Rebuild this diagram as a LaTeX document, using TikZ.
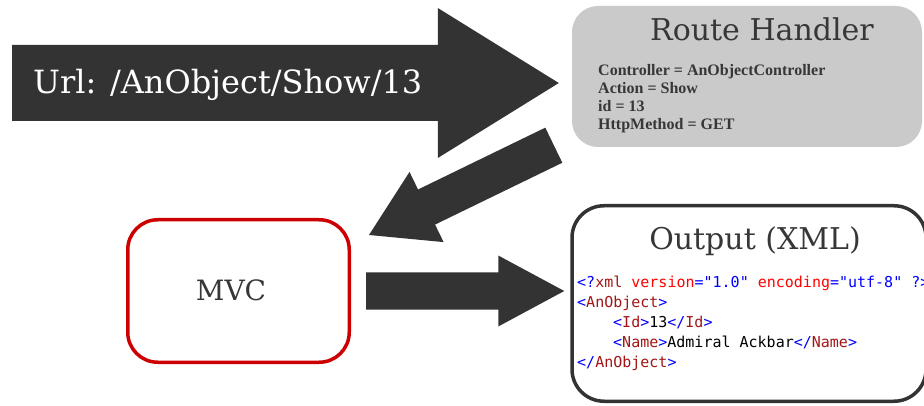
\documentclass[tikz,border=0pt]{standalone}
\usepackage{fontspec}
\usepackage{xcolor}
\usepackage{tikz}
\usetikzlibrary{calc}

\newfontfamily\titlefont{DejaVu Serif}
\newfontfamily\bodyfont{Liberation Serif}
\newfontfamily\xmlfont{DejaVu Sans Mono}

\definecolor{arrowgray}{RGB}{51,51,51}
\definecolor{textgray}{RGB}{55,55,55}
\definecolor{boxgray}{RGB}{202,202,202}
\definecolor{mvcred}{RGB}{204,0,0}
\definecolor{xmlblue}{RGB}{0,0,255}
\definecolor{xmlred}{RGB}{255,0,0}
\definecolor{xmltag}{RGB}{163,21,21}

\newcommand{\xb}[1]{\textcolor{xmlblue}{#1}}
\newcommand{\xr}[1]{\textcolor{xmlred}{#1}}
\newcommand{\xt}[1]{\textcolor{xmltag}{#1}}

\begin{document}
\begin{tikzpicture}[x=1pt,y=-1pt,
			blockarrow/.style n args={3}{fill=arrowgray,to path={
				($(\tikztostart)!#1!90:(\tikztotarget)$)
				-- ($(\tikztotarget)!#3!(\tikztostart)!#1!-90:(\tikztostart)$)
				-- ($(\tikztotarget)!#3!(\tikztostart)!#2!-90:(\tikztostart)$)
				-- (\tikztotarget)
				-- ($(\tikztotarget)!#3!(\tikztostart)!#2!90:(\tikztostart)$)
				-- ($(\tikztotarget)!#3!(\tikztostart)!#1!90:(\tikztostart)$)
				-- ($(\tikztostart)!#1!-90:(\tikztotarget)$) -- cycle}},
			title/.style={anchor=base,inner sep=0pt,text=textgray,font=\titlefont\fontsize{#1}{#1}\selectfont},
			rhline/.style={anchor=base west,inner sep=0pt,text=textgray,font=\bodyfont\bfseries\fontsize{16}{18}\selectfont},
			xmlline/.style={anchor=base west,inner sep=0pt,font=\xmlfont\fontsize{15}{18}\selectfont}]
	\useasboundingbox (0,0) rectangle (924,406);

	% boxes
	\node[fill=boxgray,rounded corners=26pt,minimum width=350pt,minimum height=141pt] (rh) at (747,76.5) {};
	\node[draw=mvcred,line width=3.5pt,rounded corners=30pt,minimum width=221.5pt,minimum height=142.5pt] (mvc) at (238.5,291) {};
	\node[draw=arrowgray,line width=3.5pt,rounded corners=32pt,minimum width=354pt,minimum height=195.5pt] (out) at (749,303.5) {};

	% arrows
	\coordinate (urlstart) at (12,83);
	\fill[blockarrow={38pt}{75pt}{121pt}] (urlstart) to ($(urlstart -| rh.west)+(-13,0)$);
	\fill[blockarrow={19.5pt}{39pt}{64pt}] ($(rh.south west)+(-18,-2)$) to ($(mvc.north east)+(18,17)$);
	\fill[blockarrow={18.5pt}{35.5pt}{66pt}] ($(mvc.east)+(15,0)$) to ($(mvc.east -| out.west)+(-6,0)$);

	\node[title=32,anchor=base west,text=white] (url) at (33,94) {Url: /AnObject/Show/13};
	\node[title=30] (rhtitle) at (762,41) {Route Handler};
	\foreach \txt [count=\i] in {Controller = AnObjectController,Action = Show,id = 13,HttpMethod = GET}
		\node[rhline] (rhline\i) at (598,58.2+17.8*\i) {\txt};
	\node[title=28] (mvctitle) at (231,300) {MVC};
	\node[title=30] (outtitle) at (755,250) {Output (XML)};

	% xml listing
	\node[xmlline] (xml1) at (577,287.5) {\xb{<?}\xt{xml} \xr{version}\xb{="1.0"} \xr{encoding}\xb{="utf-8"} \xb{?>}};
	\node[xmlline] (xml2) at (577,307.6) {\xb{<}\xt{AnObject}\xb{>}};
	\node[xmlline] (xml3) at (613,327.7) {\xb{<}\xt{Id}\xb{>}13\xb{</}\xt{Id}\xb{>}};
	\node[xmlline] (xml4) at (613,347.8) {\xb{<}\xt{Name}\xb{>}Admiral Ackbar\xb{</}\xt{Name}\xb{>}};
	\node[xmlline] (xml5) at (577,367.9) {\xb{</}\xt{AnObject}\xb{>}};
\end{tikzpicture}
\end{document}
